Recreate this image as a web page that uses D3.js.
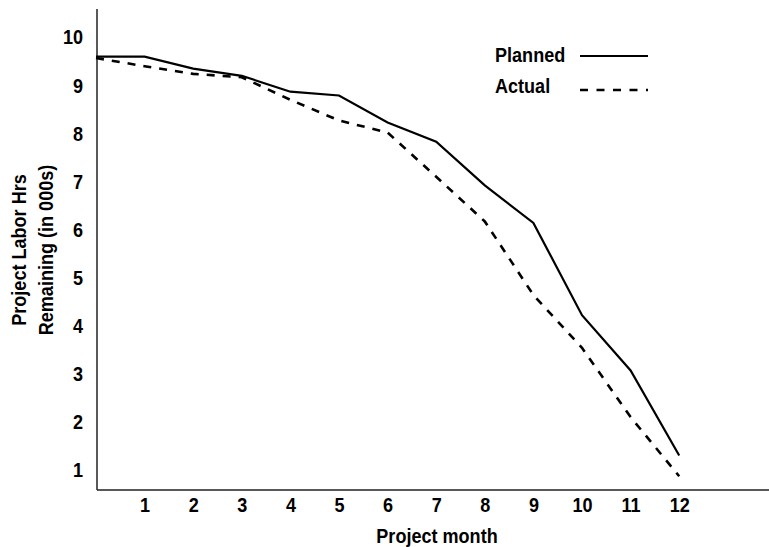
<!DOCTYPE html>
<html>
<head>
<meta charset="utf-8">
<script src="https://cdn.jsdelivr.net/npm/d3@7"></script>
<style>
  html, body { margin: 0; padding: 0; background: #fff; }
  svg { display: block; }
  text { font-family: "Liberation Sans", Arial, sans-serif; font-weight: bold; fill: #000; }
</style>
</head>
<body>
<svg id="chart" width="769" height="547"></svg>
<script>
const months = [0, 1, 2, 3, 4, 5, 6, 7, 8, 9, 10, 11, 12];
const planned = [9.58, 9.58, 9.33, 9.18, 8.85, 8.77, 8.21, 7.81, 6.9, 6.12, 4.2, 3.05, 1.28];
const actual  = [9.55, 9.38, 9.22, 9.15, 8.68, 8.25, 8.0, 7.08, 6.15, 4.62, 3.52, 2.08, 0.85];
const xTicks = [1, 2, 3, 4, 5, 6, 7, 8, 9, 10, 11, 12];
const yTicks = [1, 2, 3, 4, 5, 6, 7, 8, 9, 10];
const seriesNames = ["Planned", "Actual"];
const xTitle = "Project month";
const yTitle = ["Project Labor Hrs", "Remaining (in 000s)"];

const SX = 0.86;   // horizontal condensing of the bold sans
const FS = 21;

const svg = d3.select("#chart");
const x = d3.scaleLinear().domain([0, 14]).range([96, 96 + 14 * 48.6]);
const y = d3.scaleLinear().domain([0.563, 10.57]).range([490, 9]);

// axes lines
svg.append("line").attr("x1", 97).attr("x2", 769).attr("y1", 490).attr("y2", 490)
  .attr("stroke", "#222").attr("stroke-width", 1.5);
svg.append("line").attr("x1", 97).attr("x2", 97).attr("y1", 9).attr("y2", 490)
  .attr("stroke", "#222").attr("stroke-width", 1.5);

// y axis
const yAxis = svg.append("g").attr("transform", "translate(97,0)")
  .call(d3.axisLeft(y).tickValues(yTicks).tickSize(0).tickPadding(0).tickFormat(d3.format("d")));
yAxis.select(".domain").remove();
yAxis.selectAll("text").attr("font-size", FS).attr("font-family", null)
  .attr("x", -14 / SX).attr("dy", "0.36em").attr("transform", `scale(${SX},1)`);

// x axis
const xAxis = svg.append("g").attr("transform", "translate(0,490)")
  .call(d3.axisBottom(x).tickValues(xTicks).tickSize(0).tickFormat(d3.format("d")));
xAxis.select(".domain").remove();
xAxis.selectAll("text").attr("font-size", FS).attr("font-family", null)
  .attr("y", 22.5).attr("dy", 0).attr("transform", `scale(${SX},1)`);

// axis titles
svg.append("text").attr("transform", `translate(437,543) scale(${SX},1)`).attr("text-anchor", "middle")
  .attr("font-size", FS).text(xTitle);
svg.append("text").attr("transform", `translate(26,250) rotate(-90) scale(${SX},1)`).attr("text-anchor", "middle")
  .attr("font-size", FS).text(yTitle[0]);
svg.append("text").attr("transform", `translate(53,250) rotate(-90) scale(${SX},1)`).attr("text-anchor", "middle")
  .attr("font-size", FS).text(yTitle[1]);

// lines
const line = d3.line().x((d, i) => x(months[i])).y(d => y(d));
svg.append("path").datum(planned).attr("d", line).attr("fill", "none")
  .attr("stroke", "#000").attr("stroke-width", 2.2);
svg.append("path").datum(actual).attr("d", line).attr("fill", "none")
  .attr("stroke", "#000").attr("stroke-width", 2.6).attr("stroke-dasharray", "8,8");

// legend
svg.append("text").attr("transform", `translate(495,62) scale(${SX},1)`).attr("font-size", FS).text(seriesNames[0]);
svg.append("text").attr("transform", `translate(495,93) scale(${SX},1)`).attr("font-size", FS).text(seriesNames[1]);
svg.append("line").attr("x1", 580).attr("x2", 648).attr("y1", 56).attr("y2", 56)
  .attr("stroke", "#000").attr("stroke-width", 2.2);
svg.append("line").attr("x1", 580).attr("x2", 648).attr("y1", 90).attr("y2", 90)
  .attr("stroke", "#000").attr("stroke-width", 2.6).attr("stroke-dasharray", "8,8.5");
</script>
</body>
</html>
